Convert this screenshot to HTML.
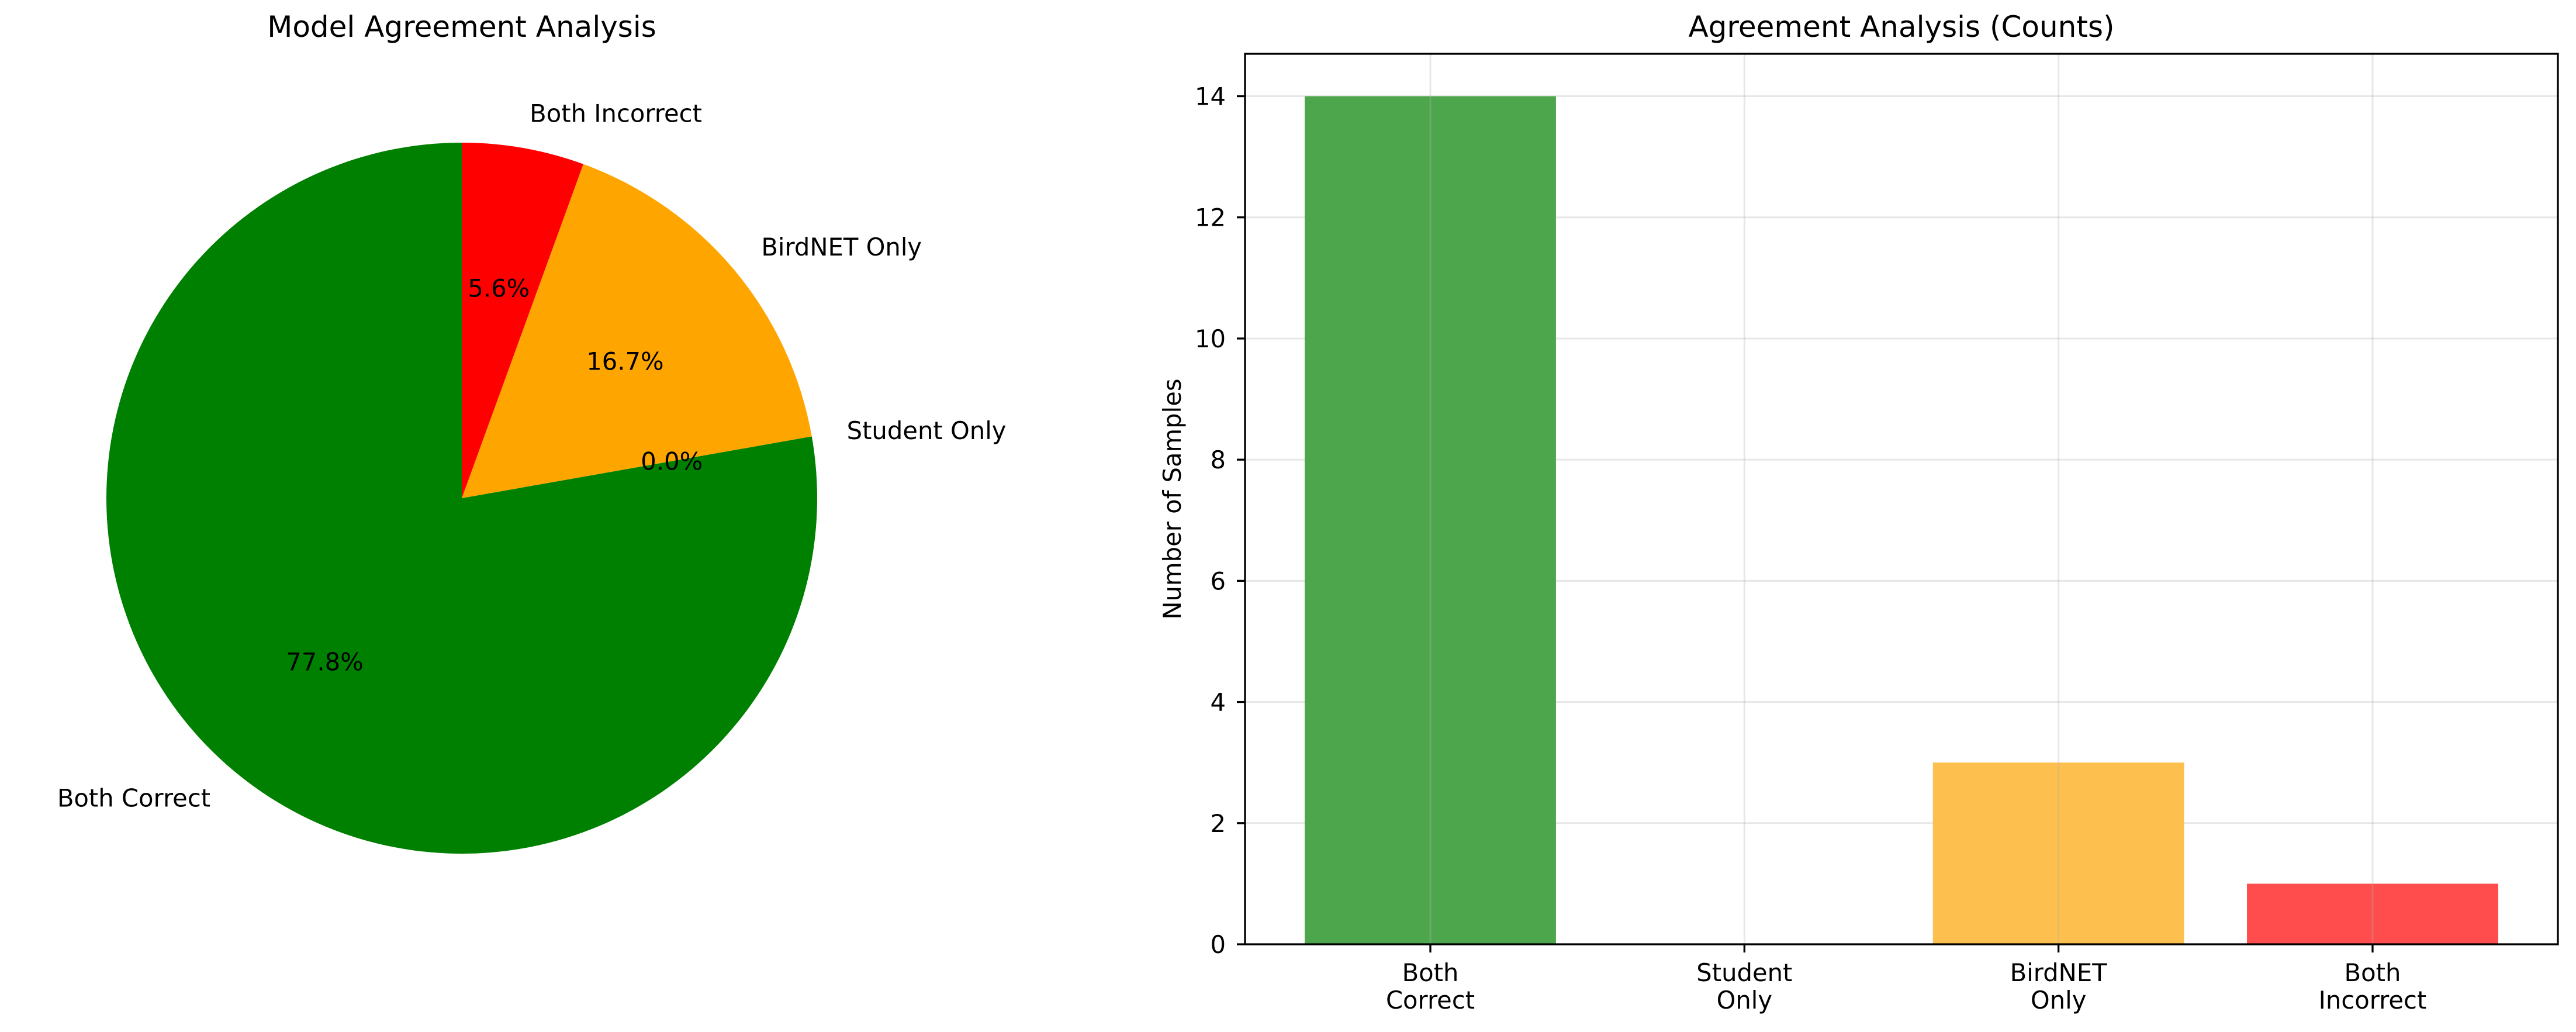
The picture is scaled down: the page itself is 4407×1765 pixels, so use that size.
<!DOCTYPE html>
<html><head><meta charset="utf-8"><style>
html,body{margin:0;padding:0;background:#fff;}
svg{display:block;font-family:"DejaVu Sans","Liberation Sans",sans-serif;}
</style></head><body>
<svg id="fig" width="4407" height="1765" viewBox="0 0 4407 1765" xmlns="http://www.w3.org/2000/svg">
<rect width="4407" height="1765" fill="#fff"/>
<g id="pie"><g id="wedges"></g><g id="pietext"></g></g>
<g id="bar"></g>
</svg>
<script>
const categories = ["Both Correct", "Student Only", "BirdNET Only", "Both Incorrect"];
const tickLines = [["Both","Correct"],["Student","Only"],["BirdNET","Only"],["Both","Incorrect"]];
const counts = [14, 0, 3, 1];
const yTicks = [0, 2, 4, 6, 8, 10, 12, 14];

const NS = "http://www.w3.org/2000/svg";
function mk(tag, attrs, parent, text) {
  const e = document.createElementNS(NS, tag);
  for (const k in attrs) e.setAttribute(k, attrs[k]);
  if (text !== undefined) e.textContent = text;
  parent.appendChild(e);
  return e;
}
const FS = 41.7;

// ---- PIE ----
const wedges = document.getElementById('wedges');
const ptext = document.getElementById('pietext');
const cx = 790, cy = 852, R = 608;
const colorsByCat = {"Both Correct":"#008000","Student Only":"#0000ff","BirdNET Only":"#ffa500","Both Incorrect":"#ff0000"};
const total = counts.reduce((a,b)=>a+b,0);
let ang = 90;
const t1 = mk('text', {x: cx, y: 63, 'font-size': 50, 'text-anchor': 'middle'}, ptext, 'Model Agreement Analysis');


categories.forEach((c, i) => {
  const frac = counts[i] / total;
  const a0 = ang, a1 = ang + frac * 360;
  ang = a1;
  const rad = d => d * Math.PI / 180;
  if (frac > 0) {
    const x0 = cx + R * Math.cos(rad(a0)), y0 = cy - R * Math.sin(rad(a0));
    const x1 = cx + R * Math.cos(rad(a1)), y1 = cy - R * Math.sin(rad(a1));
    const large = (a1 - a0) > 180 ? 1 : 0;
    const p = mk('path', {d: `M${cx},${cy} L${x0},${y0} A${R},${R} 0 ${large} 0 ${x1},${y1} Z`, fill: colorsByCat[c]}, wedges);
    
    
  }
  const mid = rad((a0 + a1) / 2);
  const lx = cx + 1.1 * R * Math.cos(mid), ly = cy - 1.1 * R * Math.sin(mid);
  const lab = mk('text', {x: lx, y: ly + 15, 'font-size': FS, 'text-anchor': Math.cos(mid) >= 0 ? 'start' : 'end'}, ptext, c);
  
  
  const px = cx + 0.6 * R * Math.cos(mid), py = cy - 0.6 * R * Math.sin(mid);
  const pct = mk('text', {x: px, y: py + 15, 'font-size': FS, 'text-anchor': 'middle'}, ptext, (frac * 100).toFixed(1) + '%');
  
  
});

// ---- BAR ----
const bar = document.getElementById('bar');
const L = 2130, Rr = 4376, T = 92, B = 1615;
const xmin = -0.59, xmax = 3.59, ymin = 0, ymax = 14.7;
const X = v => L + (v - xmin) / (xmax - xmin) * (Rr - L);
const Y = v => B - (v - ymin) / (ymax - ymin) * (B - T);
const barColors = ["#4ea64c", "#5b5bff", "#fdbf4d", "#ff4d4d"];
yTicks.forEach(t => {
  const g = mk('line', {x1: L, x2: Rr, y1: Y(t), y2: Y(t), stroke: '#b0b0b0', 'stroke-opacity': 0.3, 'stroke-width': 3}, bar);
  
  
});
categories.forEach((c, i) => {
  const w = 0.8;
  const r = mk('rect', {x: X(i - w/2), y: Y(counts[i]), width: X(i + w/2) - X(i - w/2), height: Y(0) - Y(counts[i]), fill: barColors[i]}, bar);
  
  
});
categories.forEach((c, i) => {
  const g = mk('line', {x1: X(i), x2: X(i), y1: T, y2: B, stroke: '#b0b0b0', 'stroke-opacity': 0.3, 'stroke-width': 3}, bar);
  
  
  const tk = mk('line', {x1: X(i), x2: X(i), y1: B, y2: B + 14, stroke: '#000', 'stroke-width': 3.3}, bar);
  
  
  tickLines[i].forEach((s, j) => {
    const tl = mk('text', {x: X(i), y: 1678 + j * 47, 'font-size': FS, 'text-anchor': 'middle'}, bar, s);
    
    
  });
});
yTicks.forEach(t => {
  const tk = mk('line', {x1: L - 14, x2: L, y1: Y(t), y2: Y(t), stroke: '#000', 'stroke-width': 3.3}, bar);
  
  
  const tl = mk('text', {x: 2097, y: Y(t) + 15, 'font-size': FS, 'text-anchor': 'end'}, bar, String(t));
  
  
});
const frame = mk('rect', {x: L, y: T, width: Rr - L, height: B - T, fill: 'none', stroke: '#000', 'stroke-width': 3.3}, bar);


const yl = mk('text', {x: 2020, y: (T + B) / 2, 'font-size': FS, 'text-anchor': 'middle', transform: `rotate(-90 2020 ${(T + B) / 2})`}, bar, 'Number of Samples');


const bt = mk('text', {x: (L + Rr) / 2, y: 63, 'font-size': 50, 'text-anchor': 'middle'}, bar, 'Agreement Analysis (Counts)');


</script>
</body></html>
